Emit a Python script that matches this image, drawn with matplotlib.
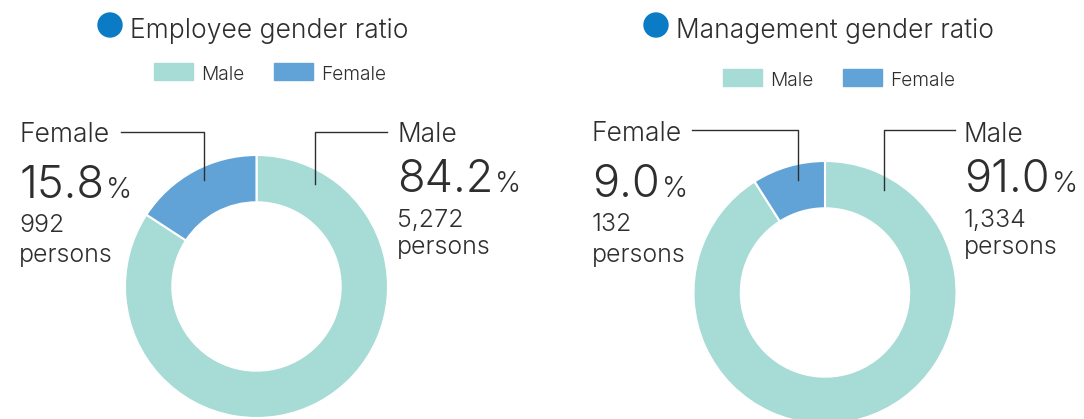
import matplotlib
matplotlib.use("Agg")
import matplotlib.pyplot as plt
from matplotlib.patches import Rectangle, Circle

plt.rcParams["font.family"] = ["Inter", "DejaVu Sans"]
plt.rcParams["font.weight"] = 300

# data
labels = ["Male", "Female"]
employee_pct = [84.2, 15.8]
employee_counts = [5272, 992]
management_pct = [91.0, 9.0]
management_counts = [1334, 132]
titles = ["Employee gender ratio", "Management gender ratio"]

male_color = "#a6dbd6"
female_color = "#62a3d7"
dot_color = "#0a7bc4"
text_color = "#2e2e2e"

W, H = 1084, 419
fig = plt.figure(figsize=(W / 100, H / 100), dpi=100)
ax = fig.add_axes([0, 0, 1, 1])

R, r = 131.5, 84.2
charts = [
    dict(cx=256.5, cy=286.5, pct=employee_pct, counts=employee_counts, title=titles[0],
         title_x=110, leg_x=154, leg_y=80,
         f_x=19, f_base=(142.3, 197.7, 232.3, 261.7), f_line=([121, 204, 204], [132, 132, 180]),
         m_x=397, m_base=(141.7, 192.3, 226.7, 254.3), m_line=([387, 315, 315], [132, 132, 184])),
    dict(cx=825, cy=292.5, pct=management_pct, counts=management_counts, title=titles[1],
         title_x=656, leg_x=723, leg_y=86,
         f_x=592, f_base=(141, 196.7, 231, 261.7), f_line=([692, 797.5, 797.5], [130.5, 130.5, 180]),
         m_x=964, m_base=(141.7, 192.3, 226.7, 254.3), m_line=([954.5, 883.5, 883.5], [130.5, 130.5, 190])),
]

for c in charts:
    ax.pie(c["pct"], colors=[male_color, female_color], startangle=-90, counterclock=True,
           radius=R, center=(c["cx"], c["cy"]),
           wedgeprops=dict(width=R - r, edgecolor="white", linewidth=1.5))

ax.set_xlim(0, W)
ax.set_ylim(H, 0)
ax.set_aspect("equal")
ax.axis("off")

renderer = fig.canvas.get_renderer()


def label_block(x, base, name, pct, count):
    ax.text(x, base[0], name, fontsize=19, color=text_color, va="baseline")
    t = ax.text(x, base[1], f"{pct:.1f}", fontsize=32.5, color=text_color, va="baseline")
    ext = t.get_window_extent(renderer)
    x1 = ax.transData.inverted().transform((ext.x1, ext.y0))[0]
    ax.text(x1 + 2, base[1], "%", fontsize=20, color=text_color, va="baseline")
    ax.text(x, base[2], f"{count:,}", fontsize=18, color=text_color, va="baseline")
    ax.text(x, base[3], "persons", fontsize=18, color=text_color, va="baseline")


for c in charts:
    # title with dot
    ax.add_patch(Circle((c["title_x"], 25), 12, color=dot_color))
    ax.text(c["title_x"] + 20, 37.5, c["title"], fontsize=19, color=text_color, va="baseline")

    # legend
    lx = c["leg_x"]
    for i, (lab, col) in enumerate(zip(labels, [male_color, female_color])):
        px = lx + i * 120
        ax.add_patch(Rectangle((px, c["leg_y"] - 17), 38.5, 17.5, color=col))
        ax.text(px + 47.5, c["leg_y"], lab, fontsize=13.8, color=text_color, va="baseline")

    # leader lines and labels
    ax.plot(*c["f_line"], color=text_color, lw=1)
    ax.plot(*c["m_line"], color=text_color, lw=1)
    label_block(c["f_x"], c["f_base"], "Female", c["pct"][1], c["counts"][1])
    label_block(c["m_x"], c["m_base"], "Male", c["pct"][0], c["counts"][0])

fig.savefig("out.png", dpi=100)
